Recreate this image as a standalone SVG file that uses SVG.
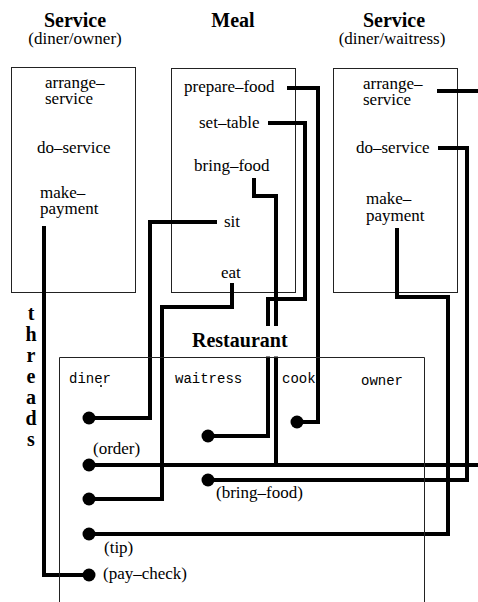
<svg xmlns="http://www.w3.org/2000/svg" width="478" height="602" viewBox="0 0 478 602">
<style>
.box{fill:none;stroke:#222;stroke-width:1}
.t{font-family:"Liberation Serif","Times New Roman",serif;font-size:17px;fill:#000}
.h{font-family:"Liberation Serif","Times New Roman",serif;font-size:20px;font-weight:bold;fill:#000}
.m{font-family:"Liberation Mono","Courier New",monospace;font-size:14px;fill:#000}
.c{text-anchor:middle}
.w{fill:none;stroke:#000;stroke-width:4;stroke-linejoin:miter}
.dot{fill:#000}
</style>
<rect width="478" height="602" fill="#fff"/>

<g id="service-owner">
<rect class="box" x="11.5" y="67.5" width="124" height="225"/>
<text class="h c" x="75" y="27">Service</text>
<text class="t c" x="75" y="44">(diner/owner)</text>
<text class="t"><tspan x="45" y="88">arrange–</tspan><tspan x="45" y="104">service</tspan></text>
<text class="t" x="37" y="153">do–service</text>
<text class="t"><tspan x="40" y="198">make–</tspan><tspan x="40" y="214">payment</tspan></text>
</g>

<g id="meal">
<rect class="box" x="171.5" y="68.5" width="124" height="224"/>
<text class="h c" x="233" y="27">Meal</text>
<text class="t" x="184" y="92">prepare–food</text>
<text class="t" x="199" y="128">set–table</text>
<text class="t" x="194" y="171">bring–food</text>
<text class="t" x="224" y="227">sit</text>
<text class="t" x="221" y="278">eat</text>
</g>

<g id="service-waitress">
<rect class="box" x="333.5" y="68.5" width="124" height="224"/>
<text class="h c" x="394" y="27">Service</text>
<text class="t c" x="392" y="44">(diner/waitress)</text>
<text class="t"><tspan x="363" y="89">arrange–</tspan><tspan x="363" y="105">service</tspan></text>
<text class="t" x="356" y="153">do–service</text>
<text class="t"><tspan x="366" y="204">make–</tspan><tspan x="366" y="221">payment</tspan></text>
</g>

<g id="threads">
<text class="h c" x="31" y="320">t</text>
<text class="h c" x="31" y="341">h</text>
<text class="h c" x="31" y="362">r</text>
<text class="h c" x="31" y="383">e</text>
<text class="h c" x="31" y="404">a</text>
<text class="h c" x="31" y="425">d</text>
<text class="h c" x="31" y="446">s</text>
</g>

<g id="connectors">
<path class="w" d="M217,222 H150 V418 H89"/>
<path class="w" d="M232,283 V307 H162 V499 H89"/>
<path class="w" d="M268,123 H305 V299 H268 V436 H208"/>
<path class="w" d="M254,178 V196 H276 V465"/>
<path class="w" d="M287,88 H318 V422 H297"/>
<path class="w" d="M437,91 H486 V465 H89"/>
<path class="w" d="M438,148 H467 V480 H208"/>
<path class="w" d="M397,228 V297 H448 V534 H89"/>
<path class="w" d="M44,226 V575 H89"/>
</g>

<g id="restaurant">
<rect x="186" y="326" width="110" height="30.5" fill="#fff"/>
<path class="box" d="M59.5,602 V357.5 H424.5 V602"/>
<text class="h" x="192" y="347">Restaurant</text>
<text class="m" x="69" y="383">diner</text>
<circle cx="101" cy="386" r="1" class="dot"/>
<text class="m" x="175" y="383">waitress</text>
<text class="m" x="282" y="383">cook</text>
<text class="m" x="361" y="385">owner</text>
<circle class="dot" cx="89" cy="418" r="6.5"/>
<circle class="dot" cx="89" cy="465" r="6.5"/>
<circle class="dot" cx="89" cy="499" r="6.5"/>
<circle class="dot" cx="89" cy="534" r="6.5"/>
<circle class="dot" cx="89" cy="575" r="6.5"/>
<circle class="dot" cx="208" cy="436" r="6.5"/>
<circle class="dot" cx="208" cy="480" r="6.5"/>
<circle class="dot" cx="297" cy="422" r="6.5"/>
<text class="t" x="93" y="454">(order)</text>
<text class="t" x="216" y="498">(bring–food)</text>
<text class="t" x="104" y="553">(tip)</text>
<text class="t" x="103" y="579">(pay–check)</text>
</g>
</svg>
